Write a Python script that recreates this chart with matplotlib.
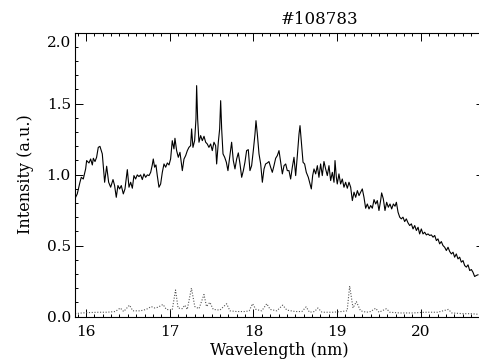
import numpy as np
import matplotlib
matplotlib.use('Agg')
import matplotlib.pyplot as plt
from matplotlib.ticker import MultipleLocator
from matplotlib.transforms import ScaledTranslation

# Spectrum (solid)
wl = [15.857, 15.896, 15.928, 15.944, 15.968, 15.996, 16.008, 16.036, 16.056, 16.076,
      16.088, 16.108, 16.127, 16.147, 16.167, 16.195, 16.223, 16.247, 16.271, 16.295,
      16.323, 16.342, 16.362, 16.382, 16.402, 16.422, 16.446, 16.466, 16.494, 16.514,
      16.534, 16.554, 16.573, 16.593, 16.613, 16.633, 16.653, 16.673, 16.693, 16.713,
      16.733, 16.753, 16.773, 16.792, 16.804, 16.820, 16.836, 16.852, 16.872, 16.892,
      16.912, 16.932, 16.952, 16.972, 16.992, 17.011, 17.031, 17.051, 17.063, 17.083,
      17.103, 17.123, 17.151, 17.171, 17.191, 17.211, 17.230, 17.250, 17.262, 17.278,
      17.298, 17.314, 17.322, 17.334, 17.350, 17.370, 17.390, 17.410, 17.430, 17.449,
      17.469, 17.489, 17.509, 17.529, 17.549, 17.561, 17.581, 17.597, 17.609, 17.621,
      17.637, 17.657, 17.677, 17.696, 17.720, 17.740, 17.760, 17.780, 17.800, 17.820,
      17.840, 17.860, 17.880, 17.899, 17.919, 17.939, 17.959, 17.979, 17.999, 18.019,
      18.031, 18.047, 18.067, 18.087, 18.107, 18.127, 18.146, 18.166, 18.186, 18.206,
      18.226, 18.246, 18.266, 18.286, 18.306, 18.326, 18.346, 18.366, 18.386, 18.405,
      18.425, 18.445, 18.465, 18.485, 18.505, 18.525, 18.545, 18.557, 18.573, 18.593,
      18.612, 18.632, 18.656, 18.676, 18.692, 18.708, 18.724, 18.744, 18.764, 18.783,
      18.803, 18.823, 18.843, 18.863, 18.883, 18.903, 18.923, 18.943, 18.963, 18.975,
      18.991, 19.002, 19.022, 19.042, 19.062, 19.082, 19.102, 19.122, 19.142, 19.162,
      19.182, 19.202, 19.222, 19.242, 19.262, 19.281, 19.301, 19.321, 19.341, 19.361,
      19.381, 19.401, 19.421, 19.441, 19.461, 19.480, 19.500, 19.520, 19.532, 19.552,
      19.572, 19.592, 19.612, 19.632, 19.652, 19.672, 19.692, 19.708, 19.728, 19.748,
      19.767, 19.787, 19.807, 19.827, 19.847, 19.867, 19.887, 19.907, 19.927, 19.947,
      19.967, 19.986, 20.006, 20.026, 20.046, 20.066, 20.086, 20.106, 20.126, 20.146,
      20.166, 20.186, 20.205, 20.225, 20.245, 20.265, 20.285, 20.305, 20.325, 20.345,
      20.365, 20.385, 20.404, 20.424, 20.444, 20.464, 20.484, 20.504, 20.524, 20.544,
      20.564, 20.584, 20.604, 20.623, 20.643, 20.663, 20.683]
intensity = [0.817, 0.864, 0.946, 0.981, 0.969, 1.040, 1.099, 1.082, 1.110, 1.068,
             1.115, 1.092, 1.122, 1.192, 1.199, 1.146, 0.946, 1.059, 0.946, 0.911,
             0.965, 0.923, 0.840, 0.923, 0.899, 0.923, 0.864, 0.899, 1.035, 0.911,
             0.946, 0.904, 0.993, 0.969, 0.998, 0.986, 0.998, 0.965, 1.005, 0.981,
             0.998, 0.993, 1.016, 1.068, 1.110, 1.052, 1.068, 0.993, 0.911, 0.934,
             1.016, 1.075, 1.052, 1.082, 1.068, 1.110, 1.239, 1.181, 1.256, 1.169,
             1.122, 1.157, 1.028, 1.110, 1.134, 1.169, 1.192, 1.204, 1.322, 1.192,
             1.239, 1.392, 1.627, 1.392, 1.228, 1.275, 1.239, 1.270, 1.228, 1.216,
             1.192, 1.216, 1.169, 1.228, 1.204, 1.075, 1.228, 1.322, 1.521, 1.322,
             1.146, 1.122, 1.087, 1.028, 1.134, 1.228, 1.099, 1.040, 1.110, 1.153,
             1.075, 0.981, 1.028, 1.087, 1.169, 1.176, 1.028, 1.063, 1.169, 1.286,
             1.380, 1.286, 1.146, 1.075, 0.946, 1.040, 1.075, 1.082, 1.092, 1.052,
             1.016, 1.063, 1.115, 1.134, 1.169, 1.087, 1.005, 1.063, 1.075, 1.028,
             1.028, 0.969, 1.052, 1.122, 0.993, 1.134, 1.286, 1.345, 1.228, 1.087,
             1.075, 1.016, 0.981, 0.934, 0.899, 0.993, 1.040, 1.005, 1.063, 0.981,
             1.075, 0.993, 1.092, 1.040, 0.993, 1.063, 0.958, 1.016, 0.946, 1.099,
             0.981, 0.934, 1.005, 0.934, 0.969, 0.911, 0.946, 0.904, 0.946, 0.911,
             0.817, 0.876, 0.840, 0.887, 0.852, 0.876, 0.899, 0.840, 0.763, 0.793,
             0.758, 0.782, 0.763, 0.824, 0.793, 0.817, 0.747, 0.817, 0.871, 0.829,
             0.747, 0.805, 0.770, 0.793, 0.758, 0.793, 0.777, 0.805, 0.735, 0.700,
             0.688, 0.700, 0.669, 0.688, 0.660, 0.641, 0.653, 0.617, 0.641, 0.606,
             0.629, 0.582, 0.617, 0.582, 0.594, 0.575, 0.582, 0.571, 0.575, 0.559,
             0.571, 0.535, 0.547, 0.512, 0.528, 0.500, 0.488, 0.465, 0.488, 0.458,
             0.441, 0.453, 0.418, 0.441, 0.406, 0.418, 0.383, 0.394, 0.359, 0.348,
             0.364, 0.324, 0.331, 0.312, 0.282, 0.289, 0.294]

# Dotted reference spectrum
wl_ref = [15.87, 15.95, 16.05, 16.15, 16.25, 16.35, 16.41, 16.45, 16.52, 16.56,
          16.65, 16.72, 16.78, 16.82, 16.86, 16.92, 16.96, 17.03, 17.07, 17.10,
          17.15, 17.18, 17.21, 17.26, 17.30, 17.35, 17.41, 17.44, 17.48, 17.52,
          17.60, 17.68, 17.72, 17.80, 17.90, 17.95, 17.99, 18.03, 18.10, 18.16,
          18.20, 18.28, 18.35, 18.40, 18.50, 18.58, 18.63, 18.67, 18.73, 18.77,
          18.82, 18.95, 19.05, 19.12, 19.15, 19.19, 19.23, 19.28, 19.35, 19.40,
          19.46, 19.50, 19.59, 19.63, 19.75, 19.90, 20.05, 20.20, 20.33, 20.37,
          20.50, 20.60, 20.70]
int_ref = [0.020, 0.025, 0.028, 0.030, 0.030, 0.035, 0.060, 0.035, 0.080, 0.040,
           0.040, 0.050, 0.070, 0.060, 0.065, 0.085, 0.050, 0.045, 0.187, 0.060,
           0.055, 0.080, 0.050, 0.200, 0.070, 0.055, 0.155, 0.070, 0.100, 0.050,
           0.045, 0.090, 0.040, 0.035, 0.035, 0.040, 0.090, 0.050, 0.040, 0.090,
           0.050, 0.040, 0.080, 0.045, 0.035, 0.035, 0.068, 0.030, 0.035, 0.060,
           0.030, 0.030, 0.035, 0.040, 0.215, 0.060, 0.105, 0.040, 0.030, 0.035,
           0.058, 0.030, 0.055, 0.030, 0.025, 0.025, 0.030, 0.030, 0.050, 0.025,
           0.020, 0.020, 0.015]

plt.rcParams['font.family'] = 'DejaVu Serif'

fig = plt.figure(figsize=(4.79, 3.62), dpi=100)
ax = fig.add_axes([75 / 479, (362 - 316.5) / 362, (483.6 - 75) / 479, (316.5 - 32.7) / 362])

ax.plot(wl, intensity, color='black', lw=0.8)
ax.plot(wl_ref, int_ref, color='#555555', lw=0.8, linestyle=(0, (1, 1.5)))

ax.set_xlim(15.869, 20.75)
ax.set_ylim(0, 2.0)
ax.xaxis.set_major_locator(MultipleLocator(1))
ax.xaxis.set_minor_locator(MultipleLocator(0.1))
ax.yaxis.set_major_locator(MultipleLocator(0.5))
ax.yaxis.set_minor_locator(MultipleLocator(0.1))
ax.yaxis.set_major_formatter(plt.FormatStrFormatter('%.1f'))
ax.tick_params(which='both', direction='in', top=True, right=True, labelsize=11, width=0.7)
ax.tick_params(which='major', length=5.5)
ax.tick_params(which='minor', length=2.5)
ax.tick_params(axis='x', pad=6)
ax.tick_params(axis='y', pad=3)
for s in ax.spines.values():
    s.set_linewidth(0.8)

ax.set_xlabel('Wavelength (nm)', fontsize=11.5, labelpad=2)
ax.set_ylabel('Intensity (a.u.)', fontsize=11.5, labelpad=9)
fig.text(320 / 479, 1 - 20 / 362, '#108783', ha='center', va='center', fontsize=12)

# top y label sits a bit below its tick, as in the original
fig.canvas.draw()
top_lab = ax.yaxis.get_major_ticks()[-1].label1
for t in ax.yaxis.get_major_ticks():
    if abs(t.get_loc() - 2.0) < 1e-6:
        top_lab = t.label1
top_lab.set_transform(top_lab.get_transform() + ScaledTranslation(0, -9 / 100, fig.dpi_scale_trans))

fig.savefig('out.png', dpi=100)
